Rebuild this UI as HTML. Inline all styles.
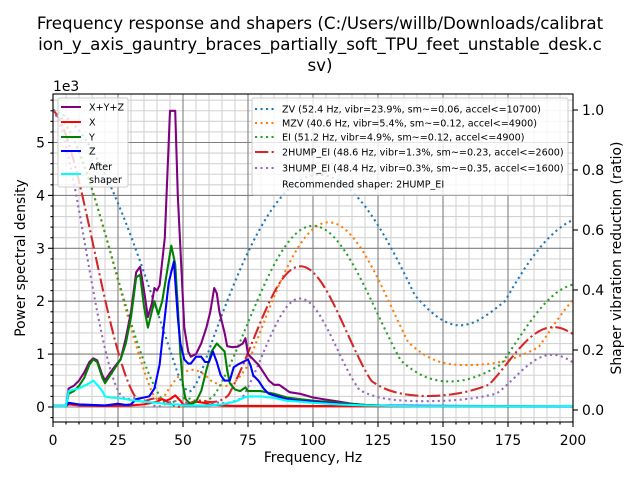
<!DOCTYPE html>
<html><head><meta charset="utf-8"><style>
html,body{margin:0;padding:0;background:#fff;}
svg{display:block;font-family:"DejaVu Sans","Liberation Sans",sans-serif;}
</style></head><body>
<svg id="s" width="640" height="480" viewBox="0 0 640 480" xmlns="http://www.w3.org/2000/svg">
<defs><clipPath id="c"><rect x="53" y="94" width="520" height="328"/></clipPath></defs>
<rect width="640" height="480" fill="#fff"/>
<g id="grid"></g>
<g id="lines" clip-path="url(#c)"></g>
<rect x="53" y="94" width="520" height="328" fill="none" stroke="#000" stroke-width="1.1"/>
<g id="ticks" font-size="13.9"></g>
<text x="320" y="29" font-size="16.7" text-anchor="middle">Frequency response and shapers (C:/Users/willb/Downloads/calibrat</text>
<text x="320" y="50" font-size="16.7" text-anchor="middle">ion_y_axis_gauntry_braces_partially_soft_TPU_feet_unstable_desk.c</text>
<text x="320" y="71" font-size="16.7" text-anchor="middle">sv)</text>
<text x="53" y="91" font-size="13.9">1e3</text>
<text x="313" y="462" font-size="13.9" text-anchor="middle">Frequency, Hz</text>
<text transform="translate(25,258) rotate(-90)" font-size="13.9" text-anchor="middle">Power spectral density</text>
<text transform="translate(621,258) rotate(-90)" font-size="13.9" text-anchor="middle">Shaper vibration reduction (ratio)</text>
<g id="leg"></g>
</svg>
<script>
var NS="http://www.w3.org/2000/svg";
function el(p,t,a,txt){var e=document.createElementNS(NS,t);for(var k in a)e.setAttribute(k,a[k]);if(txt!==undefined)e.textContent=txt;p.appendChild(e);return e;}
var X=function(f){return 53+f*2.6;},YL=function(v){return 407-v*52.9;},YR=function(r){return 410-r*300;};
var grid=document.getElementById('grid'),lines=document.getElementById('lines'),tk=document.getElementById('ticks'),leg=document.getElementById('leg');
// minor grid
for(var f=0;f<=200;f+=5){if(f%25)el(grid,'line',{x1:X(f),x2:X(f),y1:94,y2:422,stroke:'#d3d3d3','stroke-width':1.1});}
for(var v=-0.2;v<=5.9;v+=0.2){var vv=Math.round(v*10)/10;if(Math.abs(vv-Math.round(vv))>0.01){el(grid,'line',{x1:53,x2:573,y1:YL(vv),y2:YL(vv),stroke:'#d3d3d3','stroke-width':1.1});}}
for(var f=0;f<=200;f+=25)el(grid,'line',{x1:X(f),x2:X(f),y1:94,y2:422,stroke:'#808080','stroke-width':1.1});
for(var v=0;v<=5;v++)el(grid,'line',{x1:53,x2:573,y1:YL(v),y2:YL(v),stroke:'#808080','stroke-width':1.1});
// ticks
for(var f=0;f<=200;f+=5){var maj=f%25==0;el(tk,'line',{x1:X(f),x2:X(f),y1:422,y2:maj?427:424.5,stroke:'#000','stroke-width':1.1});if(maj)el(tk,'text',{x:X(f),y:445,'text-anchor':'middle'},String(f));}
for(var v=-0.2;v<=5.9;v+=0.2){var vv=Math.round(v*10)/10;var maj=Math.abs(vv-Math.round(vv))<0.01;el(tk,'line',{x1:53,x2:maj?48:50.5,y1:YL(vv),y2:YL(vv),stroke:'#000','stroke-width':1.1});if(maj)el(tk,'text',{x:45,y:YL(vv)+5,'text-anchor':'end'},String(Math.round(vv)));}
for(var r=0;r<=5;r++){var rv=r*0.2;el(tk,'line',{x1:573,x2:578,y1:YR(rv),y2:YR(rv),stroke:'#000','stroke-width':1.1});el(tk,'text',{x:582,y:YR(rv)+5},rv.toFixed(1));}
// shapers
function shp(name,f){var z=0.1,df=Math.sqrt(1-z*z),td=1/(f*df),K,A,T;
 if(name=='ZV'){K=Math.exp(-z*Math.PI/df);A=[1,K];T=[0,.5*td];}
 else if(name=='MZV'){K=Math.exp(-.75*z*Math.PI/df);var a1=1-1/Math.SQRT2,a2=(Math.SQRT2-1)*K,a3=a1*K*K;A=[a1,a2,a3];T=[0,.375*td,.75*td];}
 else if(name=='EI'){var vt=0.05;K=Math.exp(-z*Math.PI/df);var a1=.25*(1+vt),a2=.5*(1-vt)*K,a3=a1*K*K;A=[a1,a2,a3];T=[0,.5*td,td];}
 else if(name=='2H'){var vt=0.05,V2=vt*vt,Xx=Math.pow(V2*(Math.sqrt(1-V2)+1),1/3);K=Math.exp(-z*Math.PI/df);var a1=(3*Xx*Xx+2*Xx+3*V2)/(16*Xx),a2=(.5-a1)*K,a3=a2*K,a4=a1*K*K*K;A=[a1,a2,a3,a4];T=[0,.5*td,td,1.5*td];}
 else {var vt=0.05;K=Math.exp(-z*Math.PI/df);var K2=K*K,a1=0.0625*(1+3*vt+2*Math.sqrt(2*(vt+1)*vt)),a2=.25*(1-vt)*K,a3=(.5*(1+vt)-2*a1)*K2,a4=a2*K2,a5=a1*K2*K2;A=[a1,a2,a3,a4,a5];T=[0,.5*td,td,1.5*td,2*td];}
 return [A,T];}
function est(s,fr){var A=s[0],T=s[1],sum=0;A.forEach(function(a){sum+=a});var best=0;
 [0.075,0.1,0.15].forEach(function(dr){var w=2*Math.PI*fr,d=dr*w,wd=w*Math.sqrt(1-dr*dr),S=0,C=0,tl=T[T.length-1];
  for(var i=0;i<A.length;i++){var W=A[i]*Math.exp(-d*(tl-T[i]));S+=W*Math.sin(wd*T[i]);C+=W*Math.cos(wd*T[i]);}
  var v=Math.sqrt(S*S+C*C)/sum;if(v>best)best=v;});return best;}
var sh=[['ZV',52.4,'#1f77b4',0],['MZV',40.6,'#ff7f0e',0],['EI',51.2,'#2ca02c',0],['2H',48.6,'#d62728',1],['3H',48.4,'#9467bd',0]];
sh.forEach(function(q){var s=shp(q[0],q[1]),pts=[];for(var fr=0;fr<=200;fr+=0.5)pts.push(X(fr).toFixed(1)+','+YR(est(s,fr)).toFixed(1));
 el(lines,'polyline',{points:pts.join(' '),fill:'none',stroke:q[2],'stroke-width':2.08,'stroke-dasharray':q[3]?'13.3,3.3,2.1,3.3':'2.1,3.4'});});
// psd
function pl(d,c){var pts=[];for(var i=0;i<d.length;i+=2)pts.push(X(d[i]).toFixed(1)+','+YL(d[i+1]).toFixed(1));el(lines,'polyline',{points:pts.join(' '),fill:'none',stroke:c,'stroke-width':2.08,'stroke-linejoin':'round'});}
var sumd=[0,.02,5,.02,6,.35,8,.4,10,.5,12,.65,14,.85,15.5,.92,17,.88,19,.6,20,.5,22,.65,24,.78,26,.9,28,1.3,30,1.8,32,2.55,33.5,2.65,35,2.2,36.5,1.7,38,1.95,39,2.25,40,2.2,41,2.3,43,3.2,45,5.6,47,5.6,48,4,49.5,2.5,50.5,1.5,52,1.05,53,.95,55,1.0,57,1.2,59,1.5,60.5,1.8,62,2.25,63,2.15,64,1.8,65,1.6,66,1.4,67,1.15,69,1.13,71,1.14,73,1.2,74,1.3,75,1.0,77,.9,79,.8,81,.65,83,.5,85,.42,87,.42,89,.35,91,.28,95,.25,100,.18,105,.14,110,.1,115,.06,120,.04,130,.02,200,.01];
var yd=[0,.02,5,.02,6,.25,8,.3,10,.4,12,.55,14,.8,15.5,.9,17,.85,19,.55,20,.45,22,.6,24,.75,26,.9,28,1.2,30,1.7,32,2.45,33.5,2.5,35,1.9,36.5,1.5,38,1.8,39,2.0,40.5,1.75,42,2.0,44,2.6,45.5,3.05,47,2.7,48,1.9,49,1.0,50,.4,51,.15,53,.05,55,.1,57,.3,59,.7,61,1.05,63,1.2,64,1.15,66,1.05,67,.7,68,.45,70,.33,72,.3,74,.37,75,.3,77,.3,80,.3,85,.25,90,.18,95,.15,100,.12,110,.08,120,.04,130,.02,200,.01];
var zd=[0,.02,5,.02,6,.08,10,.05,20,.03,25,.06,28,.04,30,.05,32,.15,35,.18,37,.2,39,.35,41,.8,43,1.7,44.5,2.35,46.5,2.75,48,1.7,49,1.2,50.5,.9,52,.82,53,.82,55,.95,57,.95,58.5,.85,60,.85,61.5,1.05,63,.85,64.5,.6,66,.5,68,.5,69.5,.75,71,.8,73,.85,75,.9,76,.78,77,.6,79,.5,81,.35,83,.25,85,.22,90,.15,95,.12,100,.1,110,.06,120,.03,200,.01];
var xd=[0,.02,5,.02,6,.05,10,.03,20,.02,30,.03,35,.05,40,.1,42,.15,43.5,.12,45,.15,47,.22,49,.12,50,.05,52,.03,55,.1,58,.08,60,.05,65,.03,70,.02,200,.01];
var cd=[0,.02,5,.02,6,.3,8,.33,10,.35,12,.4,14,.45,15.5,.5,17,.42,19,.3,20,.2,22,.18,25,.17,28,.15,30,.13,35,.1,40,.08,45,.05,48,.05,50,.03,55,.03,60,.03,65,.05,70,.1,73,.17,75,.2,77,.2,80,.2,85,.17,90,.12,95,.1,100,.08,110,.05,120,.03,130,.02,140,.015,200,.015];
pl(sumd,'#800080');pl(xd,'#ff0000');pl(yd,'#008000');pl(zd,'#0000ff');pl(cd,'#00ffff');
// legends
el(leg,'rect',{x:58,y:98,width:70,height:89,rx:2,fill:'#fff','fill-opacity':0.8,stroke:'#ccc','stroke-width':1});
[['X+Y+Z','#800080',107],['X','#ff0000',122],['Y','#008000',137],['Z','#0000ff',151]].forEach(function(q){el(leg,'line',{x1:61,x2:81,y1:q[2],y2:q[2],stroke:q[1],'stroke-width':2.08});el(leg,'text',{x:89,y:q[2]+3.5,'font-size':9.6},q[0]);});
el(leg,'line',{x1:61,x2:81,y1:174,y2:174,stroke:'#00ffff','stroke-width':2.08});
el(leg,'text',{x:89,y:170,'font-size':9.6},'After');el(leg,'text',{x:89,y:183,'font-size':9.6},'shaper');
el(leg,'rect',{x:252,y:98,width:316,height:97,rx:2,fill:'#fff','fill-opacity':0.8,stroke:'#ccc','stroke-width':1});
[['ZV (52.4 Hz, vibr=23.9%, sm~=0.06, accel<=10700)','#1f77b4',109,0],['MZV (40.6 Hz, vibr=5.4%, sm~=0.12, accel<=4900)','#ff7f0e',123,0],['EI (51.2 Hz, vibr=4.9%, sm~=0.12, accel<=4900)','#2ca02c',137,0],['2HUMP_EI (48.6 Hz, vibr=1.3%, sm~=0.23, accel<=2600)','#d62728',152,1],['3HUMP_EI (48.4 Hz, vibr=0.3%, sm~=0.35, accel<=1600)','#9467bd',168,0]].forEach(function(q){el(leg,'line',{x1:255,x2:276,y1:q[2],y2:q[2],stroke:q[1],'stroke-width':2.08,'stroke-dasharray':q[3]?'13.3,3.3,2.1,3.3':'2.1,3.4'});el(leg,'text',{x:282,y:q[2]+3.5,'font-size':9.6},q[0]);});
el(leg,'text',{x:282,y:187.5,'font-size':9.6},'Recommended shaper: 2HUMP_EI');
</script>
</body></html>
